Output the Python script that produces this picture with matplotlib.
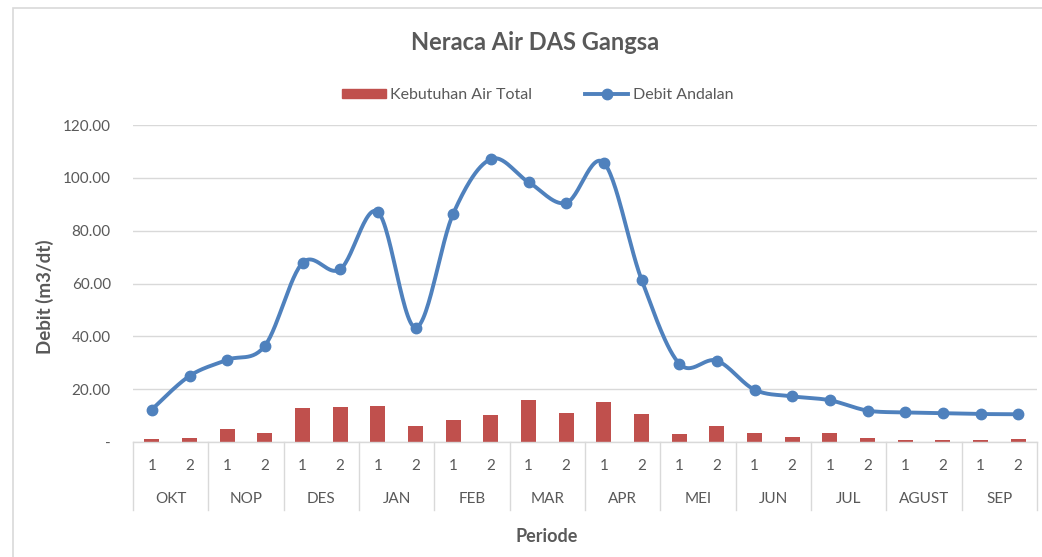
import numpy as np
import matplotlib
matplotlib.use("Agg")
import matplotlib.pyplot as plt
from matplotlib.transforms import blended_transform_factory
from matplotlib.patches import Rectangle, Patch
from matplotlib.lines import Line2D

months = ["OKT", "NOP", "DES", "JAN", "FEB", "MAR", "APR", "MEI", "JUN", "JUL", "AGUST", "SEP"]
periods = ["1", "2"]
kebutuhan = [1.3, 1.6, 4.8, 3.4, 13.0, 13.4, 13.6, 5.9, 8.3, 10.1, 15.8, 10.9,
             15.0, 10.5, 3.0, 6.2, 3.3, 1.9, 3.3, 1.5, 0.6, 0.6, 0.6, 1.0]
debit = [12.3, 25.0, 31.1, 36.4, 67.8, 65.4, 87.1, 43.3, 86.4, 107.1, 98.4, 90.5,
         105.7, 61.5, 29.7, 30.8, 19.8, 17.3, 15.8, 11.9, 11.2, 10.9, 10.6, 10.5]
yticks = [0, 20, 40, 60, 80, 100, 120]
ytick_labels = ["-", "20.00", "40.00", "60.00", "80.00", "100.00", "120.00"]

FONT = ["Lato", "DejaVu Sans"]
plt.rcParams['font.family'] = FONT
GRAY = "#595959"
GRID = "#D9D9D9"
RED = "#C0504D"
BLUE = "#4F81BD"

W, H = 1042, 557
fig = plt.figure(figsize=(W / 100, H / 100), dpi=100)
ax = fig.add_axes([133 / W, 1 - 442 / H, (1037 - 133) / W, (442 - 125) / H])

n = len(debit)
x = np.arange(n)
ax.bar(x, kebutuhan, width=0.4, color=RED, zorder=2, label="Kebutuhan Air Total")

# Smoothed line (Catmull-Rom style Bezier like Excel smoothing)
px = np.array(x, dtype=float)
py = np.array(debit, dtype=float)
sx, sy = [], []
t = np.linspace(0, 1, 30)
for i in range(n - 1):
    p0 = np.array([px[max(i - 1, 0)], py[max(i - 1, 0)]])
    p1 = np.array([px[i], py[i]])
    p2 = np.array([px[i + 1], py[i + 1]])
    p3 = np.array([px[min(i + 2, n - 1)], py[min(i + 2, n - 1)]])
    c1 = p1 + (p2 - p0) / 6.0
    c2 = p2 - (p3 - p1) / 6.0
    b = ((1 - t) ** 3)[:, None] * p1 + (3 * (1 - t) ** 2 * t)[:, None] * c1 + \
        (3 * (1 - t) * t ** 2)[:, None] * c2 + (t ** 3)[:, None] * p2
    sx.extend(b[:, 0]); sy.extend(b[:, 1])
ax.plot(sx, sy, color=BLUE, lw=2.8, zorder=3, solid_capstyle="round")
ax.plot(x, debit, linestyle="none", marker="o", ms=7.5, color=BLUE, zorder=4)

ax.set_xlim(-0.5, n - 0.5)
ax.set_ylim(0, 120)
ax.set_yticks(yticks)
ax.set_yticklabels(ytick_labels)
ax.tick_params(axis="y", length=0, pad=16, labelsize=11, labelcolor=GRAY)
ax.set_xticks([])
ax.yaxis.grid(True, color=GRID, lw=1)
ax.set_axisbelow(True)
for s in ["top", "right", "left"]:
    ax.spines[s].set_visible(False)
ax.spines["bottom"].set_color(GRID)
ax.spines["bottom"].set_linewidth(1)

trans = blended_transform_factory(ax.transData, ax.transAxes)
axh = 442 - 125
for i in range(n):
    ax.text(i, -24 / axh, periods[i % 2], transform=trans, ha="center", va="center",
            fontsize=11, color=GRAY)
for m, name in enumerate(months):
    ax.text(2 * m + 0.5, -57 / axh, name, transform=trans, ha="center", va="center",
            fontsize=11, color=GRAY)
for b in np.arange(-0.5, n, 2):
    ax.plot([b, b], [0, -68 / axh], transform=trans, color=GRID, lw=1, clip_on=False)

# Titles
fig.text(535 / W, 1 - 42 / H, "Neraca Air DAS Gangsa", ha="center", va="center",
         fontsize=17, fontweight="bold", color=GRAY)
fig.text(45 / W, 1 - 297 / H, "Debit (m3/dt)", ha="center", va="center", rotation=90,
         fontsize=13.5, fontweight="bold", color=GRAY)
fig.text(547 / W, 1 - 537 / H, "Periode", ha="center", va="center",
         fontsize=13, fontweight="bold", color=GRAY)

# Legend
handles = [Patch(color=RED), Line2D([0], [0], color=BLUE, lw=2.8, marker="o", ms=7.5)]
leg = fig.legend(handles, ["Kebutuhan Air Total", "Debit Andalan"], ncol=2,
                 loc="center", bbox_to_anchor=(538 / W, 1 - 95 / H), frameon=False,
                 fontsize=11.5, handlelength=2.7, handleheight=0.55, columnspacing=3.3,
                 handletextpad=0.3, labelcolor=GRAY)

# chart border
fig.patches.append(Rectangle((13 / W, -0.1), 1.2, 1 - 8 / H + 0.1, transform=fig.transFigure,
                             fill=False, edgecolor=GRID, lw=1.2))

fig.savefig("out.png", dpi=100)
